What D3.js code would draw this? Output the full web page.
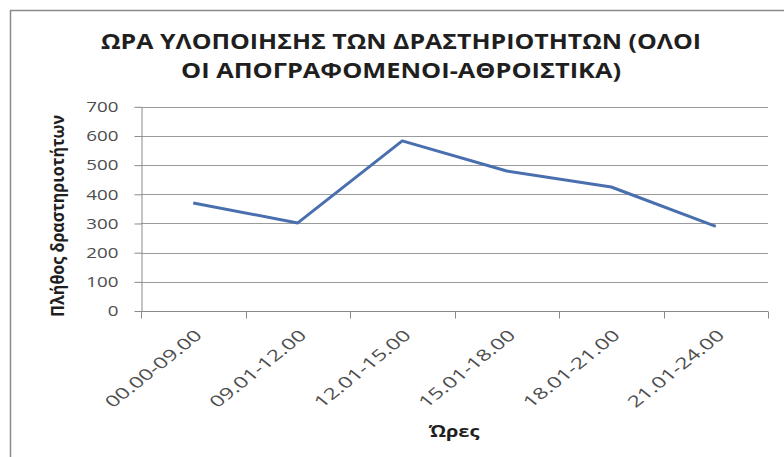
<!DOCTYPE html>
<html>
<head>
<meta charset="utf-8">
<script src="https://cdn.jsdelivr.net/npm/d3@7"></script>
<style>
  html, body { margin: 0; padding: 0; background: #ffffff; }
  svg { display: block; }
</style>
</head>
<body>
<svg id="chart" width="784" height="457"></svg>
<script>
// ---- data ----
const categories = ["00.00-09.00", "09.01-12.00", "12.01-15.00", "15.01-18.00", "18.01-21.00", "21.01-24.00"];
const values = [370, 302, 583, 480, 425, 290];
const yTicks = [0, 100, 200, 300, 400, 500, 600, 700];
const titleLines = ["ΩΡΑ ΥΛΟΠΟΙΗΣΗΣ ΤΩΝ ΔΡΑΣΤΗΡΙΟΤΗΤΩΝ (ΟΛΟΙ", "ΟΙ ΑΠΟΓΡΑΦΟΜΕΝΟΙ-ΑΘΡΟΙΣΤΙΚΑ)"];
const yTitle = "Πλήθος δραστηριοτήτων";
const xTitle = "Ώρες";

// ---- layout ----
const svg = d3.select("#chart");
const W = 784, H = 457;
const plot = { left: 141, right: 768, top: 106.8, bottom: 311 };
const SX = 1.25; // horizontal stretch of the reference text

svg.append("rect").attr("width", W).attr("height", H).attr("fill", "#ffffff");
svg.append("rect")
  .attr("x", 10.5).attr("y", 10.5).attr("width", 820).attr("height", 520)
  .attr("fill", "none").attr("stroke", "#8a8a8a").attr("stroke-width", 1.5);

const x = d3.scaleBand().domain(categories).range([plot.left, plot.right]).padding(0);
const y = d3.scaleLinear().domain([0, 700]).range([plot.bottom, plot.top]);

// gridlines
svg.append("g").selectAll("line").data(yTicks.filter(d => d > 0)).join("line")
  .attr("x1", plot.left).attr("x2", plot.right)
  .attr("y1", d => Math.round(y(d)) + 0.5).attr("y2", d => Math.round(y(d)) + 0.5)
  .attr("stroke", "#9a9a9a").attr("stroke-width", 1);

// y axis
const yAxis = svg.append("g")
  .attr("transform", `translate(${plot.left + 0.5},0)`)
  .call(d3.axisLeft(y).tickValues(yTicks).tickSize(7).tickSizeOuter(0));
yAxis.select(".domain").attr("stroke", "#8a8a8a");
yAxis.selectAll(".tick line").attr("stroke", "#8a8a8a");
yAxis.selectAll(".tick text")
  .attr("x", null)
  .attr("transform", `translate(-23,0) scale(${SX},1)`)
  .attr("font-family", "'Open Sans', sans-serif")
  .attr("font-size", 15)
  .attr("fill", "#4d4d4d");

// x axis
const xAxisG = svg.append("g").attr("transform", `translate(0,${Math.round(plot.bottom) + 0.5})`);
xAxisG.append("line")
  .attr("x1", plot.left).attr("x2", plot.right)
  .attr("stroke", "#8a8a8a");
const edges = categories.map(c => x(c)).concat([plot.right]);
xAxisG.selectAll("line.tk").data(edges).join("line").attr("class", "tk")
  .attr("x1", d => Math.round(d) + 0.5).attr("x2", d => Math.round(d) + 0.5)
  .attr("y1", 0).attr("y2", 7)
  .attr("stroke", "#8a8a8a");
xAxisG.selectAll("text").data(categories).join("text")
  .attr("transform", d => `translate(${x(d) + x.bandwidth() / 2 + 10},25) scale(${SX},1) rotate(-45)`)
  .attr("text-anchor", "end")
  .attr("font-family", "'Open Sans', sans-serif")
  .attr("font-size", 15.5)
  .attr("textLength", 102)
  .attr("lengthAdjust", "spacingAndGlyphs")
  .attr("fill", "#4d4d4d")
  .text(d => d);

// line
const line = d3.line()
  .x((d, i) => x(categories[i]) + x.bandwidth() / 2)
  .y(d => y(d));
svg.append("path").datum(values)
  .attr("d", line)
  .attr("fill", "none")
  .attr("stroke", "#4a6fae")
  .attr("stroke-width", 3)
  .attr("stroke-linejoin", "round");

// title
svg.append("g").selectAll("text").data(titleLines).join("text")
  .attr("x", 401)
  .attr("y", (d, i) => 49 + i * 29)
  .attr("text-anchor", "middle")
  .attr("font-family", "'Open Sans', sans-serif")
  .attr("font-weight", "bold")
  .attr("font-size", 21)
  .attr("textLength", (d, i) => i === 0 ? 600 : 440)
  .attr("lengthAdjust", "spacingAndGlyphs")
  .attr("fill", "#1f1f1f")
  .text(d => d);

// y title
svg.append("text")
  .attr("transform", `translate(64,216) scale(${SX},1) rotate(-90)`)
  .attr("text-anchor", "middle")
  .attr("font-family", "'Open Sans', sans-serif")
  .attr("font-weight", "bold")
  .attr("font-size", 14)
  .attr("textLength", 202)
  .attr("lengthAdjust", "spacingAndGlyphs")
  .attr("fill", "#1f1f1f")
  .text(yTitle);

// x title
svg.append("text")
  .attr("transform", `translate(454,437) scale(${SX},1)`)
  .attr("text-anchor", "middle")
  .attr("font-family", "'Open Sans', sans-serif")
  .attr("font-weight", "bold")
  .attr("font-size", 16)
  .attr("fill", "#1f1f1f")
  .text(xTitle);
</script>
</body>
</html>
